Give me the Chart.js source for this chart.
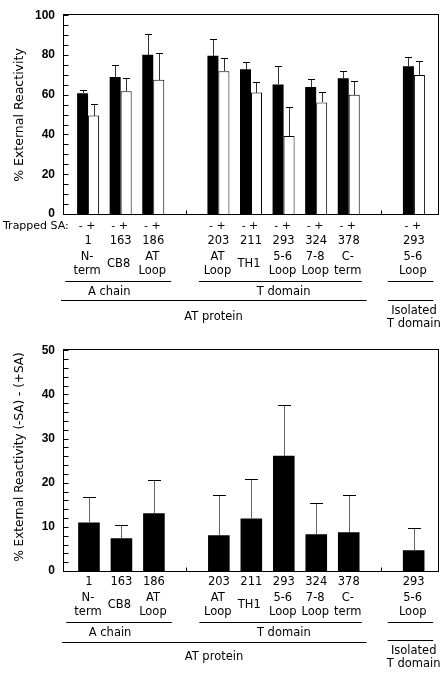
<!DOCTYPE html>
<html><head><meta charset="utf-8">
<script src="https://cdn.jsdelivr.net/npm/chart.js@4/dist/chart.umd.min.js"></script>
<style>html,body{margin:0;padding:0;background:#fff;width:444px;height:674px;overflow:hidden}
canvas{position:absolute;left:0}</style></head>
<body>
<canvas id="c1" width="444" height="335" style="top:0"></canvas>
<canvas id="c2" width="444" height="339" style="top:335px"></canvas>
<script>
// ---- data ----
const residues = ['1','163','186',null,'203','211','293','324','378',null,'293'];
const regionNames = [['N-','term'],['CB8'],['AT','Loop'],null,['AT','Loop'],['TH1'],['5-6','Loop'],['7-8','Loop'],['C-','term'],null,['5-6','Loop']];
const minusSA    = [60.7,68.9,80.1,null,79.6,72.8,65.2,63.9,68.3,null,74.3];
const minusSAErr = [1.9, 6.3, 10.2,null,8.4, 3.8, 9.4, 4.1, 3.8, null,4.6];
const plusSA     = [49.5,61.7,67.5,null,71.8,61.1,39.2,56.1,60.0,null,69.9];
const plusSAErr  = [5.8, 6.7, 13.5,null,6.8, 5.4, 14.6,5.2, 6.7, null,7.3];
const diffSA     = [11.0,7.4, 13.1,null,8.1, 11.9,26.1,8.3, 8.8, null,4.7];
const diffSAErr  = [5.7, 3.0, 7.6, null,9.2, 9.0, 11.5,7.0, 8.3, null,5.0];
const topTicks = [0,20,40,60,80,100];
const bottomTicks = [0,10,20,30,40,50];
const topTitle = '% External Reactivity';
const bottomTitle = '% External Reactivity (-SA) - (+SA)';
const trappedSALabel = 'Trapped SA:';
const trappedSASigns = '- +';
const chainLabels = ['A chain','T domain'];
const proteinLabel = 'AT protein';
const isolatedLabel = ['Isolated','T domain'];

const LABEL_FONT = '11.5px "DejaVu Sans"';

function points(vals, errs){
  const out=[];
  vals.forEach((v,i)=>{ if(v!=null) out.push({x:i,y:v,e:errs[i]}); });
  return out;
}

function makePlugin(cfg){
  return {
    id:'custom',
    afterDatasetsDraw(chart){
      const ctx=chart.ctx, ys=chart.scales.y;
      ctx.save();
      ctx.lineWidth=1;
      chart.data.datasets.forEach((ds,d)=>{
        const meta=chart.getDatasetMeta(d);
        meta.data.forEach((el,j)=>{
          const p=ds.data[j]; if(p.e==null) return;
          const xs=Math.round(el.x)+0.5;
          const y0=Math.round(el.y);
          const y1=Math.round(ys.getPixelForValue(p.y+p.e))+0.5;
          ctx.strokeStyle=cfg.errColor;
          ctx.beginPath(); ctx.moveTo(xs,y0); ctx.lineTo(xs,y1); ctx.stroke();
          ctx.strokeStyle='#000';
          ctx.beginPath(); ctx.moveTo(xs-cfg.cap/2,y1); ctx.lineTo(xs+cfg.cap/2,y1); ctx.stroke();
        });
      });
      ctx.restore();
    },
    afterDraw(chart){
      const ctx=chart.ctx, xs=chart.scales.x, ys=chart.scales.y, a=chart.chartArea;
      const X=v=>xs.getPixelForValue(v);
      const b=a.bottom;
      ctx.save();
      ctx.strokeStyle='#000'; ctx.fillStyle='#000'; ctx.lineWidth=1;
      // frame
      const L=Math.round(a.left)+0.5, T=Math.round(a.top)-0.5, R=Math.round(a.right)-0.5, B=Math.round(a.bottom)+0.5;
      ctx.strokeRect(L,T,R-L,B-T);
      // inward y ticks
      for(let v=0; v<=ys.max+1e-9; v+=cfg.minor){
        const py=Math.round(ys.getPixelForValue(v))+0.5;
        ctx.beginPath(); ctx.moveTo(L,py); ctx.lineTo(L+5,py); ctx.stroke();
      }
      // gap ticks on x axis
      residues.forEach((r,i)=>{ if(r==null){
        const px=Math.round(X(i))+0.5;
        ctx.beginPath(); ctx.moveTo(px,B); ctx.lineTo(px,B-4); ctx.stroke();
      }});
      // y title
      ctx.save();
      ctx.translate(20,cfg.titleY); ctx.rotate(-Math.PI/2);
      ctx.font=cfg.titleFont; ctx.textAlign='center'; ctx.textBaseline='middle';
      ctx.fillText(cfg.title,0,0);
      ctx.restore();
      // category labels
      const o=cfg.off;
      ctx.textBaseline='middle'; ctx.textAlign='center';
      if(o.sa!=null){
        ctx.font='11px "DejaVu Sans"';
        ctx.textAlign='left'; ctx.fillText(trappedSALabel,3,b+o.sa);
        ctx.textAlign='center';
        residues.forEach((r,i)=>{ if(r) ctx.fillText(trappedSASigns,X(i)-1,b+o.sa); });
      }
      ctx.font=LABEL_FONT;
      residues.forEach((r,i)=>{
        if(!r) return;
        ctx.fillText(r,X(i),b+o.num);
        const n=regionNames[i];
        if(n.length===2){ ctx.fillText(n[0],X(i)-1,b+o.n1); ctx.fillText(n[1],X(i)-1,b+o.n2); }
        else ctx.fillText(n[0],X(i)-2,b+o.n0);
      });
      const hline=(x0,x1,yy)=>{ const q=Math.round(yy)+0.5; ctx.beginPath(); ctx.moveTo(x0,q); ctx.lineTo(x1,q); ctx.stroke(); };
      hline(X(-0.7),X(2.55),b+o.u1);
      hline(X(3.4),X(8.4),b+o.u1);
      hline(X(9.2),X(10.6),b+o.u1);
      ctx.fillText(chainLabels[0],X(0.65),b+o.g);
      ctx.fillText(chainLabels[1],X(6),b+o.g);
      hline(X(-0.83),X(8.55),b+o.u2);
      hline(X(9.2),X(10.6),b+o.u2i);
      ctx.fillText(proteinLabel,X(3.85),b+o.p);
      ctx.fillText(isolatedLabel[0],X(10),b+o.i1);
      ctx.fillText(isolatedLabel[1],X(10),b+o.i2);
      ctx.restore();
    }
  };
}

function makeChart(id, datasets, c){
  return new Chart(document.getElementById(id),{
    type:'bar',
    data:{datasets},
    options:{
      responsive:false, animation:false, devicePixelRatio:1,
      layout:{padding:{left:0,right:5,top:c.top,bottom:c.bottom}},
      plugins:{legend:{display:false},tooltip:{enabled:false}},
      scales:{
        x:{type:'linear',min:c.xmin,max:c.xmax,offset:false,display:false,
           afterBuildTicks:s=>{ s.ticks=residues.map((r,i)=>({value:i})); }},
        y:{min:0,max:c.ymax,
           afterFit:s=>{ s.width=63; },
           afterBuildTicks:s=>{ s.ticks=c.ticks.map(v=>({value:v})); },
           grid:{display:false,drawTicks:false}, border:{display:false},
           ticks:{padding:8,color:'#000',font:{family:'"Liberation Sans"',weight:'bold',size:12}}}
      }
    },
    plugins:[makePlugin(c)]
  });
}

makeChart('c1',[
  {data:points(minusSA,minusSAErr),backgroundColor:'#000',borderWidth:0,categoryPercentage:0.675,barPercentage:1},
  {data:points(plusSA,plusSAErr),backgroundColor:'#fff',borderColor:'#000',borderWidth:1,categoryPercentage:0.675,barPercentage:1}
],{top:8,bottom:121,xmin:-0.77,xmax:10.77,ymax:100,ticks:topTicks,minor:5,cap:7,errColor:'#333',
   title:topTitle,titleY:115,titleFont:'12.5px "DejaVu Sans"',
   off:{sa:12,num:27,n1:43,n2:57,n0:50,u1:67,g:78,u2:86,u2i:86,p:103,i1:97,i2:110}});

makeChart('c2',[
  {data:points(diffSA,diffSAErr),backgroundColor:'#000',borderWidth:0,categoryPercentage:0.665,barPercentage:1}
],{top:14,bottom:103,xmin:-0.8,xmax:10.78,ymax:50,ticks:bottomTicks,minor:2,cap:13,errColor:'#666',
   title:bottomTitle,titleY:122,titleFont:'12px "DejaVu Sans"',
   off:{sa:null,num:11,n1:27,n2:41,n0:34,u1:51,g:62,u2:71,u2i:69,p:86,i1:80,i2:93}});
</script>
</body></html>
